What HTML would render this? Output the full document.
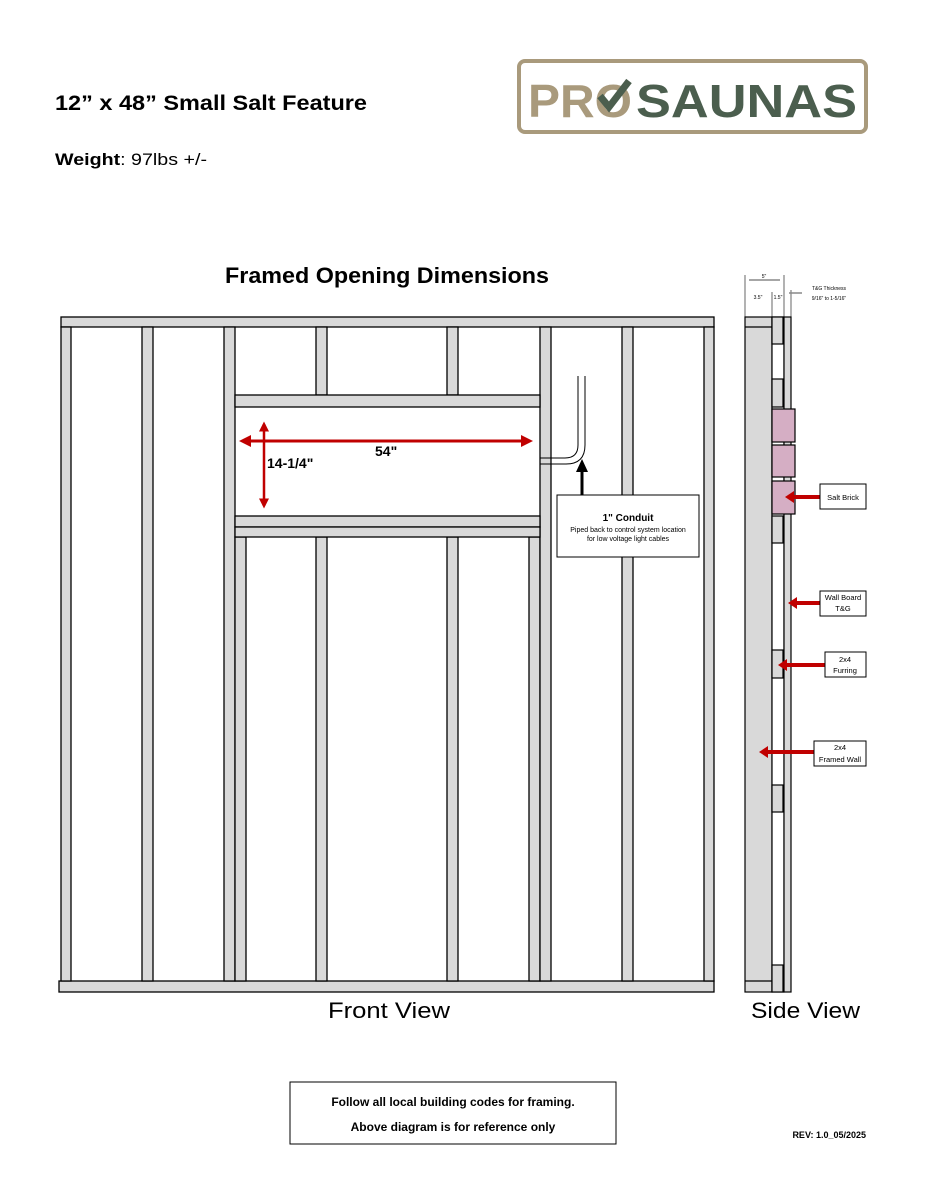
<!DOCTYPE html>
<html><head><meta charset="utf-8"><style>
html,body{margin:0;padding:0;background:#fff;}
svg{display:block;font-family:"Liberation Sans",sans-serif;}
</style></head><body>
<svg width="927" height="1199" viewBox="0 0 927 1199" xmlns="http://www.w3.org/2000/svg">
<defs>
<marker id="ra" markerWidth="4" markerHeight="4" refX="3" refY="2" orient="auto-start-reverse" markerUnits="strokeWidth"><path d="M0,0 L4,2 L0,4 z" fill="#c00000"/></marker>
</defs>
<text x="55" y="110" font-size="21" font-weight="bold" fill="#000" textLength="312" lengthAdjust="spacingAndGlyphs">12” x 48” Small Salt Feature</text>
<text x="55" y="165" font-size="17" textLength="152" lengthAdjust="spacingAndGlyphs"><tspan font-weight="bold">Weight</tspan>: 97lbs +/-</text>
<!-- logo -->
<rect x="519" y="61" width="347" height="71" rx="6" fill="#fff" stroke="#a99a7c" stroke-width="4"/>
<text x="528" y="117" font-size="46" font-weight="bold" fill="#a99a7c" textLength="104" lengthAdjust="spacingAndGlyphs">PRO</text>
<path d="M600,96 l9,11 l20,-26" stroke="#4b5e4e" stroke-width="7" fill="none"/>
<text x="636" y="117" font-size="46" font-weight="bold" fill="#4b5e4e" textLength="221" lengthAdjust="spacingAndGlyphs">SAUNAS</text>

<text x="225" y="283" font-size="22" font-weight="bold" textLength="324" lengthAdjust="spacingAndGlyphs">Framed Opening Dimensions</text>

<g fill="#d9d9d9" stroke="#000" stroke-width="1.3">
<rect x="61" y="317" width="653" height="10"/>
<rect x="59" y="981" width="655" height="11"/>
<rect x="61" y="327" width="10" height="654"/>
<rect x="142" y="327" width="11" height="654"/>
<rect x="224" y="327" width="11" height="654"/>
<rect x="235" y="537" width="11" height="444"/>
<rect x="316" y="327" width="11" height="68"/>
<rect x="447" y="327" width="11" height="68"/>
<rect x="316" y="537" width="11" height="444"/>
<rect x="447" y="537" width="11" height="444"/>
<rect x="529" y="537" width="11" height="444"/>
<rect x="540" y="327" width="11" height="654"/>
<rect x="622" y="327" width="11" height="654"/>
<rect x="704" y="327" width="10" height="654"/>
<rect x="235" y="395" width="305" height="12"/>
<rect x="235" y="516" width="305" height="11"/>
<rect x="235" y="527" width="305" height="10"/>
</g>
<!-- conduit -->
<path d="M540,458 H565 Q578,458 578,445 V376" fill="none" stroke="#000" stroke-width="1"/>
<path d="M540,464 H566 Q585,464 585,445 V376" fill="none" stroke="#000" stroke-width="1"/>
<line x1="582" y1="495" x2="582" y2="470" stroke="#000" stroke-width="3"/>
<path d="M576,472 L582,459 L588,472 z"/>
<rect x="557" y="495" width="142" height="62" fill="#fff" stroke="#000" stroke-width="1"/>
<text x="628" y="521" font-size="10" font-weight="bold" text-anchor="middle">1" Conduit</text>
<text x="628" y="532" font-size="7" text-anchor="middle">Piped back to control system location</text>
<text x="628" y="541" font-size="7" text-anchor="middle">for low voltage light cables</text>
<!-- red dims -->
<line x1="242" y1="441" x2="530" y2="441" stroke="#c00000" stroke-width="3" marker-start="url(#ra)" marker-end="url(#ra)"/>
<line x1="264" y1="424" x2="264" y2="506" stroke="#c00000" stroke-width="2.5" marker-start="url(#ra)" marker-end="url(#ra)"/>
<text x="375" y="456" font-size="14" font-weight="bold">54"</text>
<text x="267" y="468" font-size="14" font-weight="bold">14-1/4"</text>

<text x="328" y="1018" font-size="22" textLength="122" lengthAdjust="spacingAndGlyphs">Front View</text>

<!-- side view -->
<g stroke="#000" stroke-width="0.6" fill="none">
<line x1="745" y1="275" x2="745" y2="317"/><line x1="772" y1="292" x2="772" y2="317"/>
<line x1="784" y1="275" x2="784" y2="317"/><line x1="791" y1="290" x2="791" y2="317"/>
</g>
<line x1="749" y1="280" x2="780" y2="280" stroke="#888" stroke-width="1.5"/>
<text x="764" y="278" font-size="5" text-anchor="middle">5"</text>
<text x="758" y="299" font-size="5" text-anchor="middle">3.5"</text>
<text x="778" y="299" font-size="5" text-anchor="middle">1.5"</text>
<line x1="789" y1="293" x2="802" y2="293" stroke="#888" stroke-width="1.5"/>
<text x="829" y="290" font-size="5" text-anchor="middle">T&amp;G Thickness</text>
<text x="829" y="300" font-size="5" text-anchor="middle">9/16" to 1-5/16"</text>
<g stroke="#000" stroke-width="1.2">
<rect x="745" y="317" width="27" height="675" fill="#d9d9d9"/>
<rect x="772" y="317" width="12" height="675" fill="#fff"/>
<rect x="784" y="317" width="7" height="675" fill="#d9d9d9"/>
<line x1="745" y1="327" x2="772" y2="327"/>
<line x1="745" y1="981" x2="772" y2="981"/>
<g fill="#d9d9d9">
<rect x="772" y="317" width="11" height="27"/>
<rect x="772" y="379" width="11" height="28"/>
<rect x="772" y="516" width="11" height="27"/>
<rect x="772" y="650" width="11" height="28"/>
<rect x="772" y="785" width="11" height="27"/>
<rect x="772" y="965" width="11" height="27"/>
</g>
<g fill="#d5aec4">
<rect x="772" y="409" width="23" height="33"/>
<rect x="772" y="445" width="23" height="32"/>
<rect x="772" y="481" width="23" height="33"/>
</g>
</g>
<g stroke="#c00000" stroke-width="4">
<line x1="820" y1="497" x2="792" y2="497"/>
<line x1="820" y1="603" x2="795" y2="603"/>
<line x1="825" y1="665" x2="786" y2="665"/>
<line x1="815" y1="752" x2="767" y2="752"/>
</g>
<g fill="#c00000">
<path d="M785,497 l9,-6 v12 z"/><path d="M788,603 l9,-6 v12 z"/>
<path d="M778,665 l9,-6 v12 z"/><path d="M759,752 l9,-6 v12 z"/>
</g>
<g fill="#fff" stroke="#000" stroke-width="1">
<rect x="820" y="484" width="46" height="25"/>
<rect x="820" y="591" width="46" height="25"/>
<rect x="825" y="652" width="41" height="25"/>
<rect x="814" y="741" width="52" height="25"/>
</g>
<g font-size="7.5" text-anchor="middle">
<text x="843" y="500">Salt Brick</text>
<text x="843" y="600">Wall Board</text><text x="843" y="611">T&amp;G</text>
<text x="845" y="662">2x4</text><text x="845" y="673">Furring</text>
<text x="840" y="750">2x4</text><text x="840" y="762">Framed Wall</text>
</g>
<text x="751" y="1018" font-size="22" textLength="109" lengthAdjust="spacingAndGlyphs">Side View</text>

<rect x="290" y="1082" width="326" height="62" fill="#fff" stroke="#000" stroke-width="1"/>
<text x="453" y="1106" font-size="12" font-weight="bold" text-anchor="middle">Follow all local building codes for framing.</text>
<text x="453" y="1131" font-size="12" font-weight="bold" text-anchor="middle">Above diagram is for reference only</text>
<text x="866" y="1138" font-size="9" font-weight="bold" text-anchor="end">REV: 1.0_05/2025</text>
</svg>
</body></html>
